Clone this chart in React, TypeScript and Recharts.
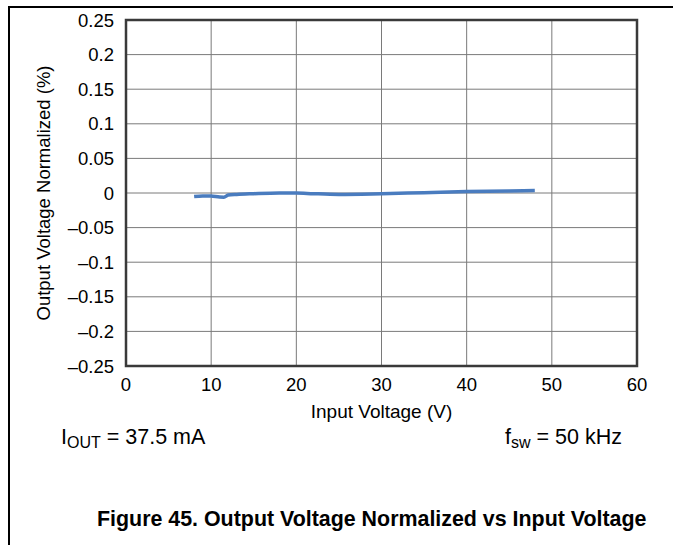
import { LineChart, Line, XAxis, YAxis, CartesianGrid, ReferenceArea } from "recharts";

// Input voltage (V) vs normalized output voltage (%)
const inputVoltage = [8, 9, 10, 11, 11.5, 12, 13, 15, 18, 20, 22, 25, 30, 35, 40, 45, 48];
const outputNormalized = [
  -0.005, -0.0042, -0.0045, -0.0058, -0.006, -0.003, -0.002, -0.001, 0, 0, -0.001, -0.002,
  -0.001, 0.0005, 0.002, 0.003, 0.0035,
];

const xTicks = [0, 10, 20, 30, 40, 50, 60];
const yTicks = [0.25, 0.2, 0.15, 0.1, 0.05, 0, -0.05, -0.1, -0.15, -0.2, -0.25];

const FONT = "'Liberation Sans', Arial, sans-serif";

const data = inputVoltage.map((v, i) => ({ vin: v, vout: outputNormalized[i] }));

// TI-style minus sign (en dash)
const fmtY = (v: number) => String(v).replace("-", "\u2013");

export default function App() {
  return (
    <div
      style={{
        position: "absolute",
        left: 0,
        top: 0,
        width: 673,
        height: 545,
        background: "#fff",
        fontFamily: FONT,
        color: "#000",
      }}
    >
      {/* page frame */}
      <div style={{ position: "absolute", left: 8, top: 6, width: 665, height: 0, borderTop: "2px solid #000" }} />
      <div style={{ position: "absolute", left: 8, top: 6, width: 0, height: 539, borderLeft: "2px solid #000" }} />

      <LineChart
        width={673}
        height={545}
        data={data}
        margin={{ top: 20, right: 36, bottom: 119, left: 20 }}
        style={{ position: "absolute", left: 0, top: 0 }}
      >
        <CartesianGrid stroke="#7a7a7a" strokeWidth={1} horizontalValues={yTicks} verticalValues={xTicks} />
        <XAxis
          dataKey="vin"
          type="number"
          domain={[0, 60]}
          ticks={xTicks}
          axisLine={false}
          tickLine={false}
          tickSize={0}
          tickMargin={12}
          height={60}
          tick={{ fill: "#000", fontSize: 18.5, fontFamily: FONT }}
          label={{
            value: "Input Voltage (V)",
            position: "insideBottom",
            offset: 8,
            style: { fill: "#000", fontSize: 19, fontFamily: FONT },
          }}
        />
        <YAxis
          type="number"
          domain={[-0.25, 0.25]}
          ticks={yTicks}
          axisLine={false}
          tickLine={false}
          tickSize={0}
          tickMargin={12}
          width={106}
          tickFormatter={fmtY}
          tick={{ fill: "#000", fontSize: 18.5, fontFamily: FONT }}
          label={{
            value: "Output Voltage Normalized (%)",
            angle: -90,
            position: "insideLeft",
            offset: 23,
            style: { fill: "#000", fontSize: 18.5, fontFamily: FONT, textAnchor: "middle" },
          }}
        />
        <Line
          type="monotone"
          dataKey="vout"
          stroke="#4a7cbf"
          strokeWidth={3.5}
          dot={false}
          isAnimationActive={false}
        />
        <ReferenceArea
          x1={0}
          x2={60}
          y1={-0.25}
          y2={0.25}
          fill="none"
          stroke="#3a3a3a"
          strokeWidth={2.5}
          ifOverflow="visible"
        />
      </LineChart>

      <div style={{ position: "absolute", left: 61, top: 424, fontSize: 21.5, lineHeight: "26px", whiteSpace: "nowrap" }}>
        I<sub style={{ fontSize: 16, verticalAlign: "-4px" }}>OUT</sub> = 37.5 mA
      </div>
      <div style={{ position: "absolute", left: 505, top: 424, fontSize: 21.5, lineHeight: "26px", whiteSpace: "nowrap" }}>
        f<sub style={{ fontSize: 16, verticalAlign: "-4px" }}>sw</sub> = 50 kHz
      </div>
      <div
        style={{
          position: "absolute",
          left: 97,
          top: 506,
          fontSize: 21.4,
          fontWeight: "bold",
          lineHeight: "26px",
          whiteSpace: "nowrap",
        }}
      >
        Figure 45. Output Voltage Normalized vs Input Voltage
      </div>
    </div>
  );
}
